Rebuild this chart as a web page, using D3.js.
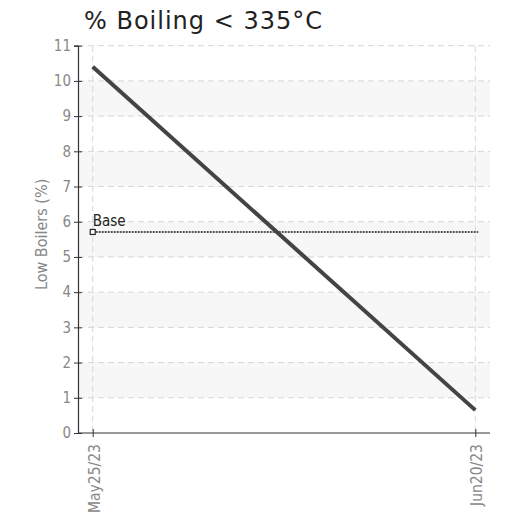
<!DOCTYPE html>
<html>
<head>
<meta charset="utf-8">
<script src="https://cdn.jsdelivr.net/npm/d3@7/dist/d3.min.js"></script>
<style>
  html, body { margin: 0; padding: 0; background: #fff; }
  svg { display: block; }
  .cond { font-family: 'DejaVu Sans Condensed', 'DejaVu Sans', sans-serif; font-stretch: condensed; }
</style>
</head>
<body>
<svg id="chart" width="508" height="518"></svg>
<script>
// Series: low boilers over time
const dates = ["2023-05-25", "2023-06-20"];
const lowBoilers = [10.4, 0.65];
// Reference level
const baseValue = [5.71];
const baseLabel = ["Base"];
const yTicks = [0, 1, 2, 3, 4, 5, 6, 7, 8, 9, 10, 11];
const titleText = "% Boiling < 335°C";
const yAxisTitle = "Low Boilers (%)";

const parse = d3.timeParse("%Y-%m-%d");
const fmt = d3.timeFormat("%b%d/%y");
const pts = dates.map((d, i) => ({ date: parse(d), value: lowBoilers[i] }));

const svg = d3.select("#chart");
const plotLeft = 78, plotRight = 490, plotTop = 45.7, plotBottom = 433;

const x = d3.scaleTime()
  .domain([d3.timeDay.offset(pts[0].date, -1), d3.timeDay.offset(pts[1].date, 1)])
  .range([plotLeft, plotRight]);
const y = d3.scaleLinear().domain([0, 11]).range([plotBottom, plotTop]);

// alternating bands
const bands = yTicks.filter(v => v < 11 && v % 2 === 1);
svg.append("g").selectAll("rect").data(bands).join("rect")
  .attr("x", plotLeft).attr("width", plotRight - plotLeft)
  .attr("y", d => y(d + 1)).attr("height", d => y(d) - y(d + 1))
  .attr("fill", "#f7f7f7");

// horizontal gridlines
svg.append("g").selectAll("line").data(yTicks.filter(v => v > 0)).join("line")
  .attr("x1", plotLeft).attr("x2", plotRight)
  .attr("y1", d => y(d)).attr("y2", d => y(d))
  .attr("stroke", "#d6d6d6").attr("stroke-dasharray", "6,4");

// vertical gridlines
svg.append("g").selectAll("line").data(pts).join("line")
  .attr("x1", d => x(d.date)).attr("x2", d => x(d.date))
  .attr("y1", plotTop).attr("y2", plotBottom)
  .attr("stroke", "#d6d6d6").attr("stroke-dasharray", "6,4");

// y axis
const yAxis = svg.append("g").attr("transform", `translate(${plotLeft},0)`)
  .call(d3.axisLeft(y).tickValues(yTicks).tickSize(4).tickPadding(3));
yAxis.select(".domain").attr("stroke", "#333").attr("stroke-width", 1.2);
yAxis.selectAll(".tick line").attr("x2", 4).attr("x1", -4).attr("stroke", "#333");
yAxis.selectAll("text").attr("class", "cond").attr("fill", "#888")
  .style("font-size", "15px");

// x axis
const xAxis = svg.append("g").attr("transform", `translate(0,${plotBottom})`)
  .call(d3.axisBottom(x).tickValues(pts.map(d => d.date)).tickFormat(fmt).tickSize(4));
xAxis.select(".domain").attr("stroke", "#333").attr("stroke-width", 1.2)
  .attr("d", `M${plotLeft},0H${plotRight}`);
xAxis.selectAll(".tick line").attr("y1", -4).attr("y2", 4).attr("stroke", "#333");
xAxis.selectAll("text").attr("class", "cond")
  .attr("fill", "#888").style("font-size", "15.5px")
  .attr("text-anchor", "end")
  .attr("transform", "rotate(-90)")
  .attr("x", -11).attr("y", 1).attr("dy", "0.35em");
svg.selectAll("g").attr("font-family", null);

// y axis title
svg.append("text").attr("class", "cond")
  .attr("transform", `translate(47,${y(5.64)}) rotate(-90)`)
  .attr("text-anchor", "middle")
  .attr("fill", "#888")
  .style("font-size", "16px")
  .text(yAxisTitle);

// base reference line
const baseY = y(baseValue[0]);
svg.append("line")
  .attr("x1", x(pts[0].date)).attr("x2", x(pts[1].date) + 3)
  .attr("y1", baseY).attr("y2", baseY)
  .attr("stroke", "#222").attr("stroke-width", 1.6).attr("stroke-dasharray", "2,1");
svg.append("rect")
  .attr("x", x(pts[0].date) - 2.5).attr("y", baseY - 2.5)
  .attr("width", 5).attr("height", 5)
  .attr("fill", "#fff").attr("stroke", "#222").attr("stroke-width", 1.2);
svg.append("text").attr("class", "cond")
  .attr("x", x(pts[0].date)).attr("y", baseY - 6)
  .attr("fill", "#222")
  .style("font-size", "15px")
  .text(baseLabel[0]);

// main line
const line = d3.line().x(d => x(d.date)).y(d => y(d.value));
svg.append("path").datum(pts)
  .attr("d", line)
  .attr("fill", "none").attr("stroke", "#444").attr("stroke-width", 4);

// title
svg.append("text")
  .attr("x", 84).attr("y", 29)
  .attr("fill", "#222")
  .style("font-family", "'DejaVu Sans', sans-serif").style("font-size", "24px")
  .attr("textLength", 238).attr("lengthAdjust", "spacing")
  .text(titleText);
</script>
</body>
</html>
